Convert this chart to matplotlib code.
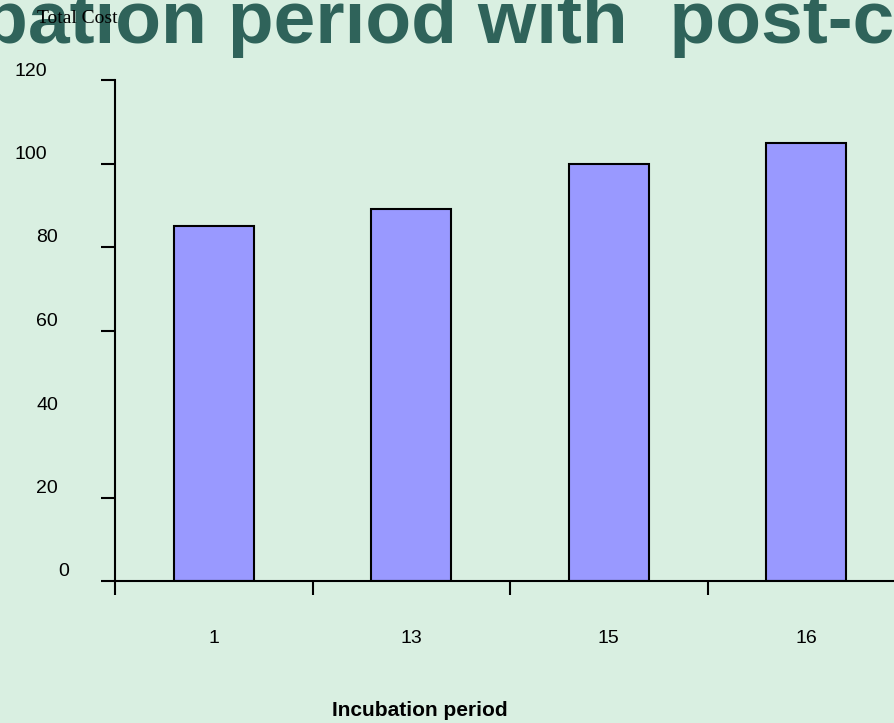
import matplotlib.pyplot as plt
import matplotlib.transforms as mtransforms

# data
categories = ["1", "13", "15", "16"]
total_cost = [85, 89, 100, 105]
y_labels = [0, 20, 40, 60, 80, 100, 120]
y_ticks = [0, 20, 60, 80, 100, 120]

BG = "#d9efe1"
TITLE_COLOR = "#2f635a"


def main():
    fig = plt.figure(figsize=(8.94, 7.23), dpi=100, facecolor=BG)
    ax = fig.add_axes([115 / 894, 1 - 581 / 723, 790 / 894, 501 / 723])
    ax.set_facecolor(BG)

    pos = list(range(len(categories)))
    ax.bar(pos, total_cost, width=0.405, color="#9999ff",
           edgecolor="black", linewidth=1.5, zorder=3)

    ax.set_xlim(-0.5, len(categories) - 0.5)
    ax.set_ylim(0, 120)

    for side in ["top", "right"]:
        ax.spines[side].set_visible(False)
    for side in ["left", "bottom"]:
        ax.spines[side].set_linewidth(1.5)
        ax.spines[side].set_zorder(4)

    # y ticks (no tick at 40 in the original), labels drawn by hand below
    ax.set_yticks(y_ticks)
    ax.set_yticklabels([])
    ax.tick_params(axis="y", direction="out", length=10, width=1.5)

    # x ticks at category boundaries, labels at centres
    ax.set_xticks([p - 0.5 for p in pos])
    ax.set_xticklabels([])
    ax.set_xticks(pos, minor=True)
    ax.set_xticklabels(categories, minor=True, fontsize=14,
                       fontfamily="Liberation Sans")
    ax.tick_params(axis="x", which="major", direction="out", length=10, width=1.5)
    ax.tick_params(axis="x", which="minor", length=0, pad=35)

    # y tick labels sit a little above their ticks
    trans = mtransforms.blended_transform_factory(fig.transFigure, ax.transData)
    trans = trans + mtransforms.ScaledTranslation(0, 0.09, fig.dpi_scale_trans)
    for v in y_labels:
        s = str(v)
        x_right = (80 - 11 * len(s)) / 894
        ax.text(x_right, v, s, transform=trans, ha="right", va="center",
                fontsize=14, fontfamily="Liberation Sans", clip_on=False)

    # title (cut off by the canvas, as in the source)
    fig.text(-18 / 894, 1 - 43 / 723, "bation period with  post-c",
             fontsize=54, fontweight="bold", color=TITLE_COLOR,
             fontfamily="Liberation Sans", ha="left", va="baseline")

    fig.text(37 / 894, 1 - 23 / 723, "Total Cost", fontsize=14,
             fontfamily="Liberation Serif", ha="left", va="baseline")

    fig.text(420 / 894, 1 - 716 / 723, "Incubation period", fontsize=15,
             fontweight="bold", fontfamily="Liberation Sans",
             ha="center", va="baseline")

    fig.savefig("out.png", dpi=100, facecolor=BG)


if __name__ == "__main__":
    main()
